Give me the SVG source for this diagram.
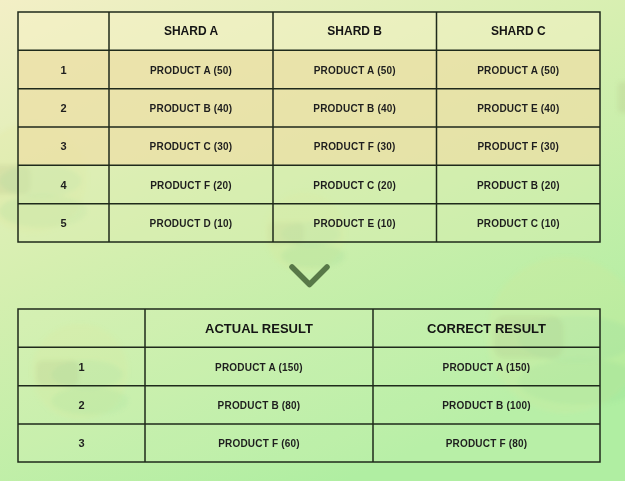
<svg xmlns="http://www.w3.org/2000/svg" width="625" height="481" viewBox="0 0 625 481">
  <defs>
    <linearGradient id="bg" x1="0" y1="0" x2="0.55" y2="1">
      <stop offset="0" stop-color="#f3efc6"/>
      <stop offset="0.45" stop-color="#d6efb0"/>
      <stop offset="1" stop-color="#b0eea2"/>
    </linearGradient>
    <filter id="soft" x="-20%" y="-20%" width="140%" height="140%">
      <feGaussianBlur stdDeviation="2"/>
    </filter>
    <g id="blob">
      <circle cx="0" cy="0" r="1" fill="#e2e890" opacity="0.16"/>
      <rect x="-0.92" y="-0.25" width="0.9" height="0.55" rx="0.15" fill="#9a9a6a" opacity="0.14"/>
      <ellipse cx="0.15" cy="0.05" rx="0.75" ry="0.3" fill="#7fd0a0" opacity="0.12"/>
      <ellipse cx="0.2" cy="0.6" rx="0.8" ry="0.3" fill="#7fd08a" opacity="0.12"/>
    </g>
  </defs>
  <style>
    .grid { fill: none; stroke: #1f2a1b; stroke-width: 1.5; }
    .h { font-family: "Liberation Sans", Arial, sans-serif; font-weight: bold; font-size: 12px; fill: #141414; text-anchor: middle; }
    .hb { font-family: "Liberation Sans", Arial, sans-serif; font-weight: bold; font-size: 13px; fill: #141414; text-anchor: middle; }
    .c { font-family: "Liberation Sans", Arial, sans-serif; font-weight: bold; font-size: 10px; letter-spacing: 0.2px; fill: #1e1e1e; text-anchor: middle; }
    .n { font-family: "Liberation Sans", Arial, sans-serif; font-weight: bold; font-size: 11px; fill: #1e1e1e; text-anchor: middle; }
  </style>

  <rect x="0" y="0" width="625" height="481" fill="url(#bg)"/>

  <!-- decorative background blobs -->
  <g id="decor" filter="url(#soft)">
    <use href="#blob" transform="translate(32,178) scale(55)"/>
    <use href="#blob" transform="translate(305,232) scale(40)"/>
    <use href="#blob" transform="translate(80,372) scale(48)"/>
    <use href="#blob" transform="translate(565,335) scale(78)"/>
    <rect x="618" y="82" width="14" height="31" rx="4" fill="#9a9a6a" opacity="0.14"/>
  </g>

  <!-- top table -->
  <g id="shard-table">
    <rect x="18" y="12" width="582" height="38.3" fill="#f6f2c6" opacity="0.5"/>
    <rect x="18" y="50.3" width="582" height="115" fill="#ecdfa6" opacity="0.75"/>
    <rect x="18" y="165.3" width="582" height="76.7" fill="#dcefb2" opacity="0.35"/>
    <rect class="grid" x="18" y="12" width="582" height="230"/>
    <path class="grid" d="M18 50.3H600M18 88.7H600M18 127H600M18 165.3H600M18 203.7H600M109 12V242M273 12V242M436.5 12V242"/>

    <text class="h" x="191" y="35">SHARD A</text>
    <text class="h" x="354.7" y="35">SHARD B</text>
    <text class="h" x="518.3" y="35">SHARD C</text>

    <text class="n" x="63.5" y="73.5">1</text>
    <text class="n" x="63.5" y="111.8">2</text>
    <text class="n" x="63.5" y="150.2">3</text>
    <text class="n" x="63.5" y="188.5">4</text>
    <text class="n" x="63.5" y="226.8">5</text>

    <text class="c" x="191" y="73.5">PRODUCT A (50)</text>
    <text class="c" x="191" y="111.8">PRODUCT B (40)</text>
    <text class="c" x="191" y="150.2">PRODUCT C (30)</text>
    <text class="c" x="191" y="188.5">PRODUCT F (20)</text>
    <text class="c" x="191" y="226.8">PRODUCT D (10)</text>

    <text class="c" x="354.7" y="73.5">PRODUCT A (50)</text>
    <text class="c" x="354.7" y="111.8">PRODUCT B (40)</text>
    <text class="c" x="354.7" y="150.2">PRODUCT F (30)</text>
    <text class="c" x="354.7" y="188.5">PRODUCT C (20)</text>
    <text class="c" x="354.7" y="226.8">PRODUCT E (10)</text>

    <text class="c" x="518.3" y="73.5">PRODUCT A (50)</text>
    <text class="c" x="518.3" y="111.8">PRODUCT E (40)</text>
    <text class="c" x="518.3" y="150.2">PRODUCT F (30)</text>
    <text class="c" x="518.3" y="188.5">PRODUCT B (20)</text>
    <text class="c" x="518.3" y="226.8">PRODUCT C (10)</text>
  </g>

  <!-- connector: chevron -->
  <g id="connectors">
    <path d="M292 267 L309.5 284.5 L327 267" fill="none" stroke="#587848" stroke-width="5.5" stroke-linecap="round" stroke-linejoin="round"/>
  </g>

  <!-- bottom table -->
  <g id="result-table">
    <rect x="18" y="309" width="582" height="153" fill="#e8f5c8" opacity="0.15"/>
    <rect class="grid" x="18" y="309" width="582" height="153"/>
    <path class="grid" d="M18 347.3H600M18 385.7H600M18 424H600M145 309V462M373 309V462"/>

    <text class="hb" x="259" y="332.5">ACTUAL RESULT</text>
    <text class="hb" x="486.5" y="332.5">CORRECT RESULT</text>

    <text class="n" x="81.5" y="370.5">1</text>
    <text class="n" x="81.5" y="408.8">2</text>
    <text class="n" x="81.5" y="447.2">3</text>

    <text class="c" x="259" y="370.5">PRODUCT A (150)</text>
    <text class="c" x="259" y="408.8">PRODUCT B (80)</text>
    <text class="c" x="259" y="447.2">PRODUCT F (60)</text>

    <text class="c" x="486.5" y="370.5">PRODUCT A (150)</text>
    <text class="c" x="486.5" y="408.8">PRODUCT B (100)</text>
    <text class="c" x="486.5" y="447.2">PRODUCT F (80)</text>
  </g>
</svg>
